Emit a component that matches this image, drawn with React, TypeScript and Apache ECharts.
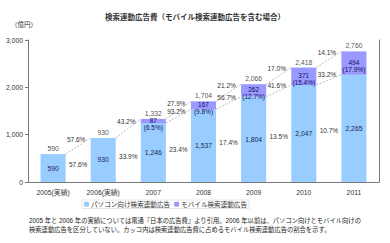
import React, { useEffect, useRef } from "react";
import * as echarts from "echarts";

const categories = ["2005(実績)", "2006(実績)", "2007", "2008", "2009", "2010", "2011"];
const pcValues = [590, 930, 1246, 1537, 1804, 2047, 2265];
const mobileValues: (number | null)[] = [null, null, 87, 167, 262, 371, 494];
const totals = [590, 930, 1332, 1704, 2066, 2418, 2760];
const mobileShare = ["", "", "6.5%", "9.8%", "12.7%", "15.4%", "17.9%"];
const totalGrowth = ["57.6%", "43.2%", "27.9%", "21.2%", "17.0%", "14.1%"];
const pcGrowth = ["57.6%", "33.9%", "23.4%", "17.4%", "13.5%", "10.7%"];
const mobileGrowth = ["", "", "93.2%", "56.7%", "41.6%", "33.2%"];
const yTicks = [0, 1000, 2000, 3000];

const FONT = "'Liberation Sans', 'Noto Sans CJK JP', sans-serif";
const fmt = (v: number) => v.toLocaleString("en-US");

export default function App() {
  const ref = useRef<HTMLDivElement>(null);
  useEffect(() => {
    if (!ref.current) return;
    const chart = echarts.init(ref.current, null, { renderer: "svg" });
    const gapData = totalGrowth.map((_, i) => [i, totals[i]]);
    chart.setOption({
      animation: false,
      title: {
        text: "検索連動広告費（モバイル検索連動広告を含む場合）",
        left: "center",
        top: 9,
        textStyle: { fontSize: 7.5, fontWeight: "bold", color: "#333", fontFamily: FONT },
      },
      graphic: [
        {
          type: "text",
          left: 11,
          top: 21,
          style: { text: "（億円）", fontSize: 6.5, fill: "#333", fontFamily: FONT },
        },
        {
          type: "text",
          left: 29,
          top: 216,
          style: {
            text:
              "2005 年と 2006 年の実績については電通『日本の広告費』より引用。2006 年以前は、パソコン向けとモバイル向けの\n検索連動広告を区分していない。カッコ内は検索連動広告費に占めるモバイル検索連動広告の割合を示す。",
            fontSize: 6.3,
            lineHeight: 9,
            fill: "#222",
            fontFamily: FONT,
          },
        },
      ],
      legend: {
        data: ["パソコン向け検索連動広告", "モバイル検索連動広告"],
        left: 82,
        top: 200,
        itemWidth: 5,
        itemHeight: 5,
        itemGap: 4,
        padding: [1, 2],
        borderColor: "#ccc",
        borderWidth: 0.5,
        textStyle: { fontSize: 6.6, color: "#333", fontFamily: FONT, padding: [0, 0, 0, -3] },
      },
      grid: { left: 28, right: 11, top: 40, bottom: 61 },
      xAxis: {
        type: "category",
        data: categories,
        axisLine: { lineStyle: { color: "#777" } },
        axisTick: { length: 3, lineStyle: { color: "#777" } },
        axisLabel: { fontSize: 6.8, color: "#333", fontFamily: FONT, margin: 7 },
      },
      yAxis: [
        {
          type: "value",
          min: yTicks[0],
          max: yTicks[yTicks.length - 1],
          interval: 1000,
          axisLine: { show: true, lineStyle: { color: "#777" } },
          axisTick: { show: true, length: 3, lineStyle: { color: "#777" } },
          splitLine: { show: false },
          axisLabel: { fontSize: 6.8, color: "#333", fontFamily: FONT, margin: 5, formatter: (v: number) => fmt(v) },
        },
        {
          type: "value",
          position: "right",
          min: 0,
          max: 3000,
          axisLine: { show: true, lineStyle: { color: "#777" } },
          axisTick: { show: false },
          axisLabel: { show: false },
          splitLine: { show: false },
        },
      ],
      series: [
        {
          name: "パソコン向け検索連動広告",
          type: "bar",
          stack: "a",
          barWidth: "50%",
          data: pcValues,
          itemStyle: { color: "#99ccff" },
          label: {
            show: true,
            position: "inside",
            fontSize: 6.8,
            color: "#1a2a55",
            fontFamily: FONT,
            formatter: (p: any) => fmt(p.value),
          },
        },
        {
          name: "モバイル検索連動広告",
          type: "bar",
          stack: "a",
          barWidth: "50%",
          data: mobileValues.map((v) => (v == null ? "-" : v)),
          itemStyle: { color: "#9999ff" },
          label: {
            show: true,
            position: "inside",
            offset: [0, 3],
            fontSize: 6.5,
            lineHeight: 7,
            color: "#101060",
            fontFamily: FONT,
            formatter: (p: any) => `${fmt(p.value)}\n(${mobileShare[p.dataIndex]})`,
          },
        },
        {
          name: "total",
          type: "scatter",
          symbolSize: 0,
          data: totals,
          label: {
            show: true,
            position: "top",
            distance: 2,
            fontSize: 6.8,
            color: "#222",
            fontFamily: FONT,
            formatter: (p: any) => fmt(p.value),
          },
          z: 5,
        },
        {
          name: "growth",
          type: "custom",
          data: gapData,
          encode: { x: 0, y: 1 },
          z: 4,
          renderItem: (params: any, api: any) => {
            const i = params.dataIndex;
            const band = api.size([1, 0])[0];
            const hw = band * 0.25;
            const children: any[] = [];
            const textStyle = (text: string, x: number, y: number) => ({
              type: "text",
              x,
              y,
              style: {
                text,
                fontSize: 6.5,
                fontFamily: FONT,
                fill: "#333",
                align: "center",
                verticalAlign: "middle",
              },
            });
            const lineEl = (a: number[], b: number[]) => ({
              type: "line",
              shape: { x1: a[0] + hw, y1: a[1], x2: b[0] - hw, y2: b[1] },
              style: { stroke: "#aaa", lineWidth: 0.8, lineDash: [2, 1.5] },
            });
            const t0 = api.coord([i, totals[i]]);
            const t1 = api.coord([i + 1, totals[i + 1]]);
            children.push(lineEl(t0, t1));
            children.push(textStyle(totalGrowth[i], (t0[0] + t1[0]) / 2 - 2, (t0[1] + t1[1]) / 2 - 7));
            if (mobileGrowth[i]) {
              const m0 = api.coord([i, pcValues[i]]);
              const m1 = api.coord([i + 1, pcValues[i + 1]]);
              children.push(lineEl(m0, m1));
              children.push(textStyle(mobileGrowth[i], (m0[0] + m1[0]) / 2 - 2, (m0[1] + m1[1]) / 2 - 5));
            }
            const c0 = api.coord([i, (pcValues[i] + pcValues[i + 1]) / 4]);
            const c1 = api.coord([i + 1, 0]);
            children.push(textStyle(pcGrowth[i], (c0[0] + c1[0]) / 2, c0[1]));
            return { type: "group", children };
          },
        },
      ],
    });
    return () => chart.dispose();
  }, []);
  return <div ref={ref} style={{ position: "absolute", left: 0, top: 0, width: 390, height: 243 }} />;
}
